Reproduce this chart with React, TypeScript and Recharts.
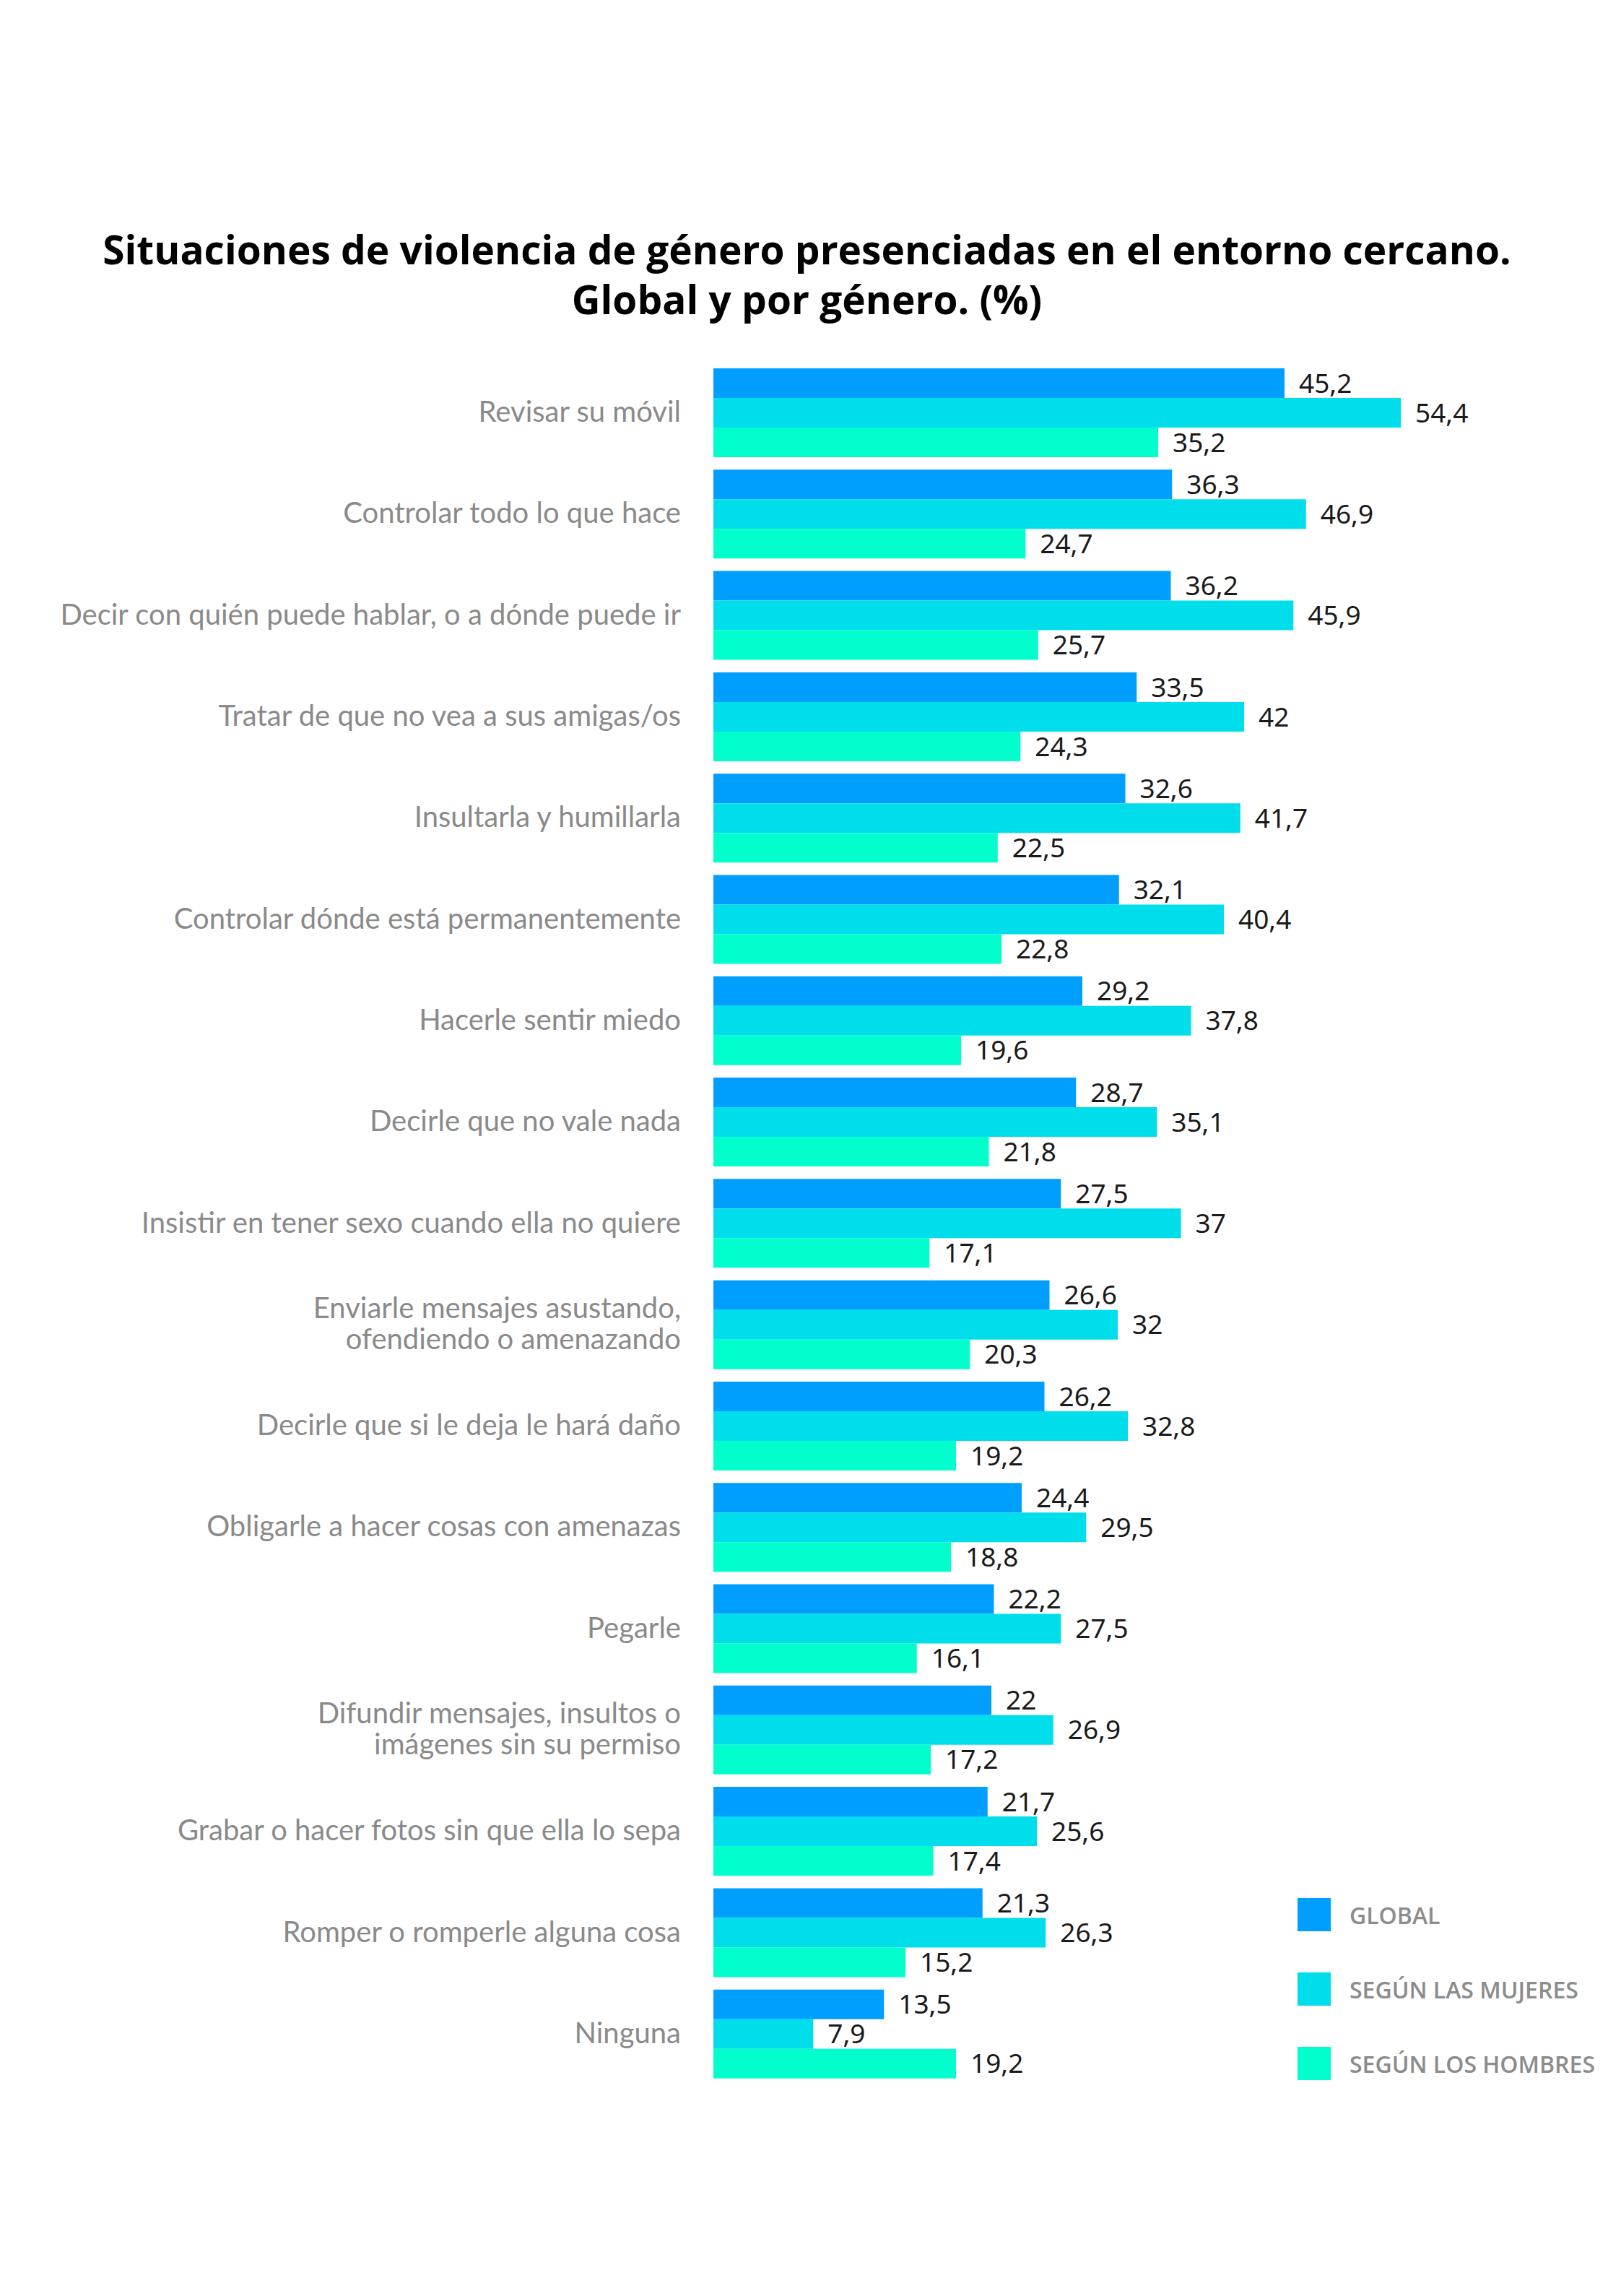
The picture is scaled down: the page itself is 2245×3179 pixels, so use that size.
import React from 'react';
import { BarChart, Bar, XAxis, YAxis, LabelList } from 'recharts';

const categories: string[] = [
  'Revisar su móvil',
  'Controlar todo lo que hace',
  'Decir con quién puede hablar, o a dónde puede ir',
  'Tratar de que no vea a sus amigas/os',
  'Insultarla y humillarla',
  'Controlar dónde está permanentemente',
  'Hacerle sentir miedo',
  'Decirle que no vale nada',
  'Insistir en tener sexo cuando ella no quiere',
  'Enviarle mensajes asustando,\nofendiendo o amenazando',
  'Decirle que si le deja le hará daño',
  'Obligarle a hacer cosas con amenazas',
  'Pegarle',
  'Difundir mensajes, insultos o\nimágenes sin su permiso',
  'Grabar o hacer fotos sin que ella lo sepa',
  'Romper o romperle alguna cosa',
  'Ninguna',
];

const globalValues: number[] = [45.2, 36.3, 36.2, 33.5, 32.6, 32.1, 29.2, 28.7, 27.5, 26.6, 26.2, 24.4, 22.2, 22, 21.7, 21.3, 13.5];
const mujeresValues: number[] = [54.4, 46.9, 45.9, 42, 41.7, 40.4, 37.8, 35.1, 37, 32, 32.8, 29.5, 27.5, 26.9, 25.6, 26.3, 7.9];
const hombresValues: number[] = [35.2, 24.7, 25.7, 24.3, 22.5, 22.8, 19.6, 21.8, 17.1, 20.3, 19.2, 18.8, 16.1, 17.2, 17.4, 15.2, 19.2];

const seriesNames = ['GLOBAL', 'SEGÚN LAS MUJERES', 'SEGÚN LOS HOMBRES'];
const seriesColors = ['#009FFF', '#00DDEB', '#00FFCC'];

const data = categories.map((name, i) => ({
  name,
  global: globalValues[i],
  mujeres: mujeresValues[i],
  hombres: hombresValues[i],
}));

const fmt = (v: any) => String(v).replace('.', ',');

const CategoryTick = (props: any) => {
  const { x, y, payload } = props;
  const lines = String(payload.value).split('\n');
  const lh = 43;
  const start = -((lines.length - 1) * lh) / 2;
  return (
    <text
      x={x}
      y={y}
      textAnchor="end"
      fill="#8a8a8a"
      fontFamily="Lato, 'Open Sans', sans-serif"
      fontSize={40}
    >
      {lines.map((l, i) => (
        <tspan key={i} x={x} dy={i === 0 ? start + 13 : lh}>
          {l}
        </tspan>
      ))}
    </text>
  );
};

const LegendBlock = () => (
  <div style={{ position: 'absolute', left: 1797, top: 2628, display: 'flex', flexDirection: 'column' }}>
    {seriesNames.map((n, i) => (
      <div key={n} style={{ display: 'flex', alignItems: 'center', height: 46, marginBottom: i < 2 ? 57 : 0 }}>
        <div style={{ width: 46, height: 46, background: seriesColors[i], marginRight: 26 }} />
        <span
          style={{
            fontFamily: "'Open Sans', sans-serif",
            fontWeight: 600,
            fontSize: 32,
            color: '#8c8c8c',
            whiteSpace: 'nowrap',
          }}
        >
          {n}
        </span>
      </div>
    ))}
  </div>
);

export default function App() {
  return (
    <div style={{ position: 'absolute', left: 0, top: 0, width: 2245, height: 3179, background: '#fff' }}>
      <div
        style={{
          position: 'absolute',
          left: 0,
          top: 310,
          width: 2235,
          textAlign: 'center',
          fontFamily: "'Open Sans', sans-serif",
          fontWeight: 700,
          fontSize: 55,
          lineHeight: '69px',
          color: '#000',
        }}
      >
        Situaciones de violencia de género presenciadas en el entorno cercano.
        <br />
        Global y por género. (%)
      </div>
      <div style={{ position: 'absolute', left: 0, top: 0 }}>
        <BarChart
          width={2245}
          height={3179}
          data={data}
          layout="vertical"
          margin={{ top: 501, right: 207, bottom: 293, left: 0 }}
          barCategoryGap={9}
          barGap={0}
        >
          <XAxis type="number" domain={[0, 60]} hide />
          <YAxis
            type="category"
            dataKey="name"
            width={988}
            tickLine={false}
            axisLine={false}
            tickSize={0}
            tickMargin={45}
            interval={0}
            tick={<CategoryTick />}
          />
          {(['global', 'mujeres', 'hombres'] as const).map((k, i) => (
            <Bar key={k} dataKey={k} name={seriesNames[i]} fill={seriesColors[i]} isAnimationActive={false}>
              <LabelList
                dataKey={k}
                position="right"
                offset={20}
                formatter={fmt}
                fill="#1a1a1a"
                fontFamily="'Noto Sans', sans-serif"
                fontSize={37}
              />
            </Bar>
          ))}
        </BarChart>
      </div>
      <LegendBlock />
    </div>
  );
}
